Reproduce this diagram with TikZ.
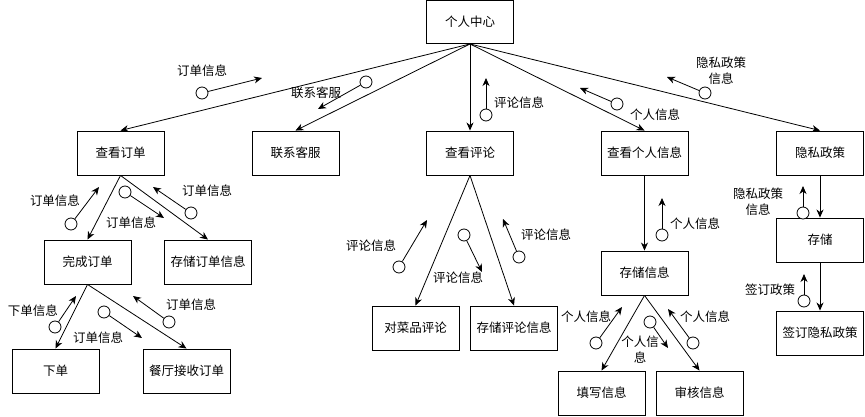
\documentclass[tikz,border=0pt]{standalone}
\usepackage{fontspec}
\newfontfamily\cjk{Noto Sans CJK SC}
\usetikzlibrary{arrows.meta}
\tikzset{
  box/.style={draw=black, line width=0.9pt, fill=white, minimum width=87pt, minimum height=44pt, inner sep=0pt, font=\cjk\fontsize{12.5}{14}\selectfont},
  lbl/.style={inner sep=0pt, font=\cjk\fontsize{12.5}{16}\selectfont, align=center},
  link/.style={draw=black, line width=0.8pt, -{Stealth[length=8pt,width=7pt,inset=2.5pt]}},
  dot/.style={circle, draw=black, line width=0.8pt, fill=white, minimum size=12pt, inner sep=0pt},
  flow/.style={draw=black, line width=0.8pt, -{Stealth[length=8pt,width=7pt,inset=2.5pt]}}
}
\begin{document}
\begin{tikzpicture}[x=1pt,y=-1pt]
\useasboundingbox (0,0) rectangle (865,417);
% boxes
\node[box, minimum height=43pt] (root) at (470,22) {个人中心};
\node[box] (dd) at (120.5,153) {查看订单};
\node[box] (kf) at (295.5,153) {联系客服};
\node[box] (pl) at (470,153) {查看评论};
\node[box] (gr) at (644.5,153) {查看个人信息};
\node[box] (ys) at (820,153) {隐私政策};
\node[box] (wc) at (87.5,262) {完成订单};
\node[box] (cc) at (208,262) {存储订单信息};
\node[box] (xd) at (55.5,371) {下单};
\node[box] (ct) at (186.5,371) {餐厅接收订单};
\node[box] (dcp) at (415.5,328) {对菜品评论};
\node[box] (ccpl) at (514,328) {存储评论信息};
\node[box] (ccxx) at (644.5,273) {存储信息};
\node[box] (cu) at (820,240) {存储};
\node[box] (qd) at (820,333) {签订隐私政策};
\node[box] (tx) at (601.5,393) {填写信息};
\node[box] (sh) at (699.5,393) {审核信息};
% tree edges
\draw[link] (root.south) -- (dd.north);
\draw[link] (root.south) -- (kf.north);
\draw[link] (root.south) -- (pl.north);
\draw[link] (root.south) -- (gr.north);
\draw[link] (root.south) -- (ys.north);
\draw[link] (dd.south) -- (wc.north);
\draw[link] (dd.south) -- (cc.north);
\draw[link] (wc.south) -- (xd.north);
\draw[link] (wc.south) -- (ct.north);
\draw[link] (pl.south) -- (dcp.north);
\draw[link] (pl.south) -- (ccpl.north);
\draw[link] (gr.south) -- (ccxx.north);
\draw[link] (ys.south) -- (cu.north);
\draw[link] (cu.south) -- (qd.north);
\draw[link] (ccxx.south) -- (tx.north);
\draw[link] (ccxx.south) -- (sh.north);
% data flows
\node[dot] (c1) at (202,93) {}; \coordinate (t1) at (262,78);
\draw[flow] (c1) -- (t1);
\node[lbl] (l1) at (202,71) {订单信息};
\node[dot] (c2) at (366,82) {}; \coordinate (t2) at (318,109);
\draw[flow] (c2) -- (t2);
\node[lbl] (l2) at (316,93) {联系客服};
\node[dot] (c3) at (486,115) {}; \coordinate (t3) at (486,78);
\draw[flow] (c3) -- (t3);
\node[lbl] (l3) at (519,103) {评论信息};
\node[dot] (c4) at (617,104) {}; \coordinate (t4) at (580,88);
\draw[flow] (c4) -- (t4);
\node[lbl] (l4) at (655,115) {个人信息};
\node[dot] (c5) at (705,93) {}; \coordinate (t5) at (667,77);
\draw[flow] (c5) -- (t5);
\node[lbl] (l5) at (721,71) {隐私政策\\信息};
\node[dot] (c6) at (71,224) {}; \coordinate (t6) at (99,187);
\draw[flow] (c6) -- (t6);
\node[lbl] (l6) at (55,201) {订单信息};
\node[dot] (c7) at (125,192) {}; \coordinate (t7) at (164,218);
\draw[flow] (c7) -- (t7);
\node[lbl] (l7) at (131,223) {订单信息};
\node[dot] (c8) at (191,213) {}; \coordinate (t8) at (153,187);
\draw[flow] (c8) -- (t8);
\node[lbl] (l8) at (207,191) {订单信息};
\node[dot] (c9) at (55,327) {}; \coordinate (t9) at (76,296);
\draw[flow] (c9) -- (t9);
\node[lbl] (l9) at (33,311) {下单信息};
\node[dot] (c10) at (104,312) {}; \coordinate (t10) at (142,338);
\draw[flow] (c10) -- (t10);
\node[lbl] (l10) at (98,338) {订单信息};
\node[dot] (c11) at (169,322) {}; \coordinate (t11) at (133,296);
\draw[flow] (c11) -- (t11);
\node[lbl] (l11) at (191,305) {订单信息};
\node[dot] (c12) at (399,267) {}; \coordinate (t12) at (427,220);
\draw[flow] (c12) -- (t12);
\node[lbl] (l12) at (371,246) {评论信息};
\node[dot] (c13) at (464,235) {}; \coordinate (t13) at (482,272);
\draw[flow] (c13) -- (t13);
\node[lbl] (l13) at (458,278) {评论信息};
\node[dot] (c14) at (519,257) {}; \coordinate (t14) at (503,219);
\draw[flow] (c14) -- (t14);
\node[lbl] (l14) at (546,235) {评论信息};
\node[dot] (c15) at (662,235) {}; \coordinate (t15) at (662,198);
\draw[flow] (c15) -- (t15);
\node[lbl] (l15) at (695,224) {个人信息};
\node[dot] (c16) at (803,213) {}; \coordinate (t16) at (803,186);
\draw[flow] (c16) -- (t16);
\node[lbl] (l16) at (758,202) {隐私政策\\信息};
\node[dot] (c17) at (804,301) {}; \coordinate (t17) at (804,274);
\draw[flow] (c17) -- (t17);
\node[lbl] (l17) at (770,290) {签订政策};
\node[dot] (c18) at (596,343) {}; \coordinate (t18) at (622,307);
\draw[flow] (c18) -- (t18);
\node[lbl] (l18) at (586,317) {个人信息};
\node[dot] (c19) at (650,322) {}; \coordinate (t19) at (668,348);
\draw[flow] (c19) -- (t19);
\node[lbl] (l19) at (640,350) {个人信\\息};
\node[dot] (c20) at (693,343) {}; \coordinate (t20) at (668,309);
\draw[flow] (c20) -- (t20);
\node[lbl] (l20) at (705,317) {个人信息};
\end{tikzpicture}
\end{document}
